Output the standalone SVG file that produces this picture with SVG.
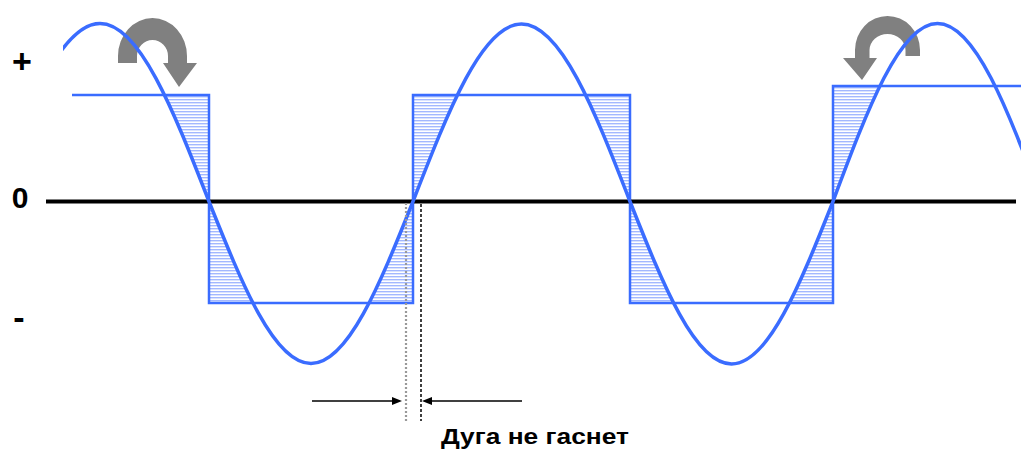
<svg xmlns="http://www.w3.org/2000/svg" width="1021" height="450" viewBox="0 0 1021 450">
<style>
.lbl{font-family:"Liberation Sans",Arial,sans-serif;font-weight:bold;fill:#000}
.wave{fill:none;stroke:#3a6cff;stroke-linejoin:miter}
.bend{fill:#808080}
</style>
<defs>
<pattern id="hatch" patternUnits="userSpaceOnUse" width="6" height="3">
<rect x="0" y="0" width="6" height="1.4" fill="#a3b8ff"/>
</pattern>
<clipPath id="rects">
<rect x="72" y="95" width="137" height="106.5"/>
<rect x="209" y="201.5" width="204" height="101.5"/>
<rect x="413" y="95" width="217" height="106.5"/>
<rect x="630" y="201.5" width="203" height="101.5"/>
<rect x="833" y="86" width="104" height="115.5"/>
</clipPath>
<clipPath id="sineclip"><rect x="63" y="0" width="958" height="450"/></clipPath>
<marker id="ah" viewBox="0 0 10 8" refX="4" refY="4" markerWidth="10" markerHeight="8" markerUnits="userSpaceOnUse" orient="auto">
<path d="M0,0 L10,4 L0,8 Z" fill="#000"/>
</marker>
</defs>
<rect width="1021" height="450" fill="#fff"/>

<g id="hatching" clip-path="url(#rects)">
<path fill="url(#hatch)" fill-rule="evenodd" d="M72,95 H209 V201.5 H72 Z M209,201.5 H413 V303 H209 Z M413,95 H630 V201.5 H413 Z M630,201.5 H833 V303 H630 Z M833,86 H937 V201.5 H833 Z
M-9,201.5 C26.55,110.31 60.55,23.5 100,23.5 C139.45,23.5 173.45,110.31 209,201.5 Z
M209,201.5 C242.26,284.49 274.09,363.5 311,363.5 C347.91,363.5 379.74,284.49 413,201.5 Z
M413,201.5 C448.38,110.57 482.23,24 521.5,24 C560.77,24 594.62,110.57 630,201.5 Z
M630,201.5 C663.1,284.75 694.77,364 731.5,364 C768.23,364 799.9,284.75 833,201.5 Z
M833,201.5 C867.08,110.31 899.68,23.5 937.5,23.5 C975.32,23.5 1007.92,110.31 1042,201.5 Z"/>
</g>

<g id="square-wave">
<path class="wave" stroke-width="2.5" d="M72,95 L209,95 L209,303 L413,303 L413,95 L630,95 L630,303 L833,303 L833,86 L1021,86"/>
</g>

<g id="zero-axis">
<line x1="46" y1="201.5" x2="1016" y2="201.5" stroke="#000" stroke-width="4"/>
</g>

<g id="bend-arrow-left">
<path class="bend" d="M118,63 L118,56 A34.5,38 0 0 1 187,56 L187,63 L197,63 L179,87 L163,63 L168,63 L168,56 A15.5,16 0 0 0 137,56 L137,63 Z"/>
</g>
<g id="bend-arrow-right">
<path class="bend" d="M920,56 L920,50 A32.5,34 0 0 0 855,50 L855,58 L843,58 L862,80 L877,58 L869.5,58 L869.5,50 A18,16 0 0 1 905.5,50 L905.5,56 Z"/>
</g>

<g id="sine-wave" clip-path="url(#sineclip)">
<path class="wave" stroke-width="3.5" d="M-9,201.5 C26.55,110.31 60.55,23.5 100,23.5 C139.45,23.5 173.45,110.31 209,201.5 C242.26,284.49 274.09,363.5 311,363.5 C347.91,363.5 379.74,284.49 413,201.5 C448.38,110.57 482.23,24 521.5,24 C560.77,24 594.62,110.57 630,201.5 C663.1,284.75 694.77,364 731.5,364 C768.23,364 799.9,284.75 833,201.5 C867.08,110.31 899.68,23.5 937.5,23.5 C975.32,23.5 1007.92,110.31 1042,201.5"/>
</g>

<g id="connectors">
<line x1="406" y1="203" x2="406" y2="421" stroke="#999" stroke-width="2.2" stroke-dasharray="2 2"/>
<line x1="421" y1="204" x2="421" y2="421" stroke="#000" stroke-width="1.5" stroke-dasharray="3 2"/>
<line x1="312" y1="401" x2="396" y2="401" stroke="#000" stroke-width="1.5" marker-end="url(#ah)"/>
<line x1="522" y1="401" x2="428" y2="401" stroke="#000" stroke-width="1.5" marker-end="url(#ah)"/>
</g>

<g id="labels">
<text class="lbl" x="22" y="73" font-size="34" text-anchor="middle">+</text>
<text class="lbl" x="20" y="208" font-size="30" text-anchor="middle">0</text>
<text class="lbl" x="19" y="329" font-size="34" text-anchor="middle">-</text>
<text class="lbl" x="441" y="444" font-size="22" textLength="188" lengthAdjust="spacingAndGlyphs">Дуга не гаснет</text>
</g>
</svg>
